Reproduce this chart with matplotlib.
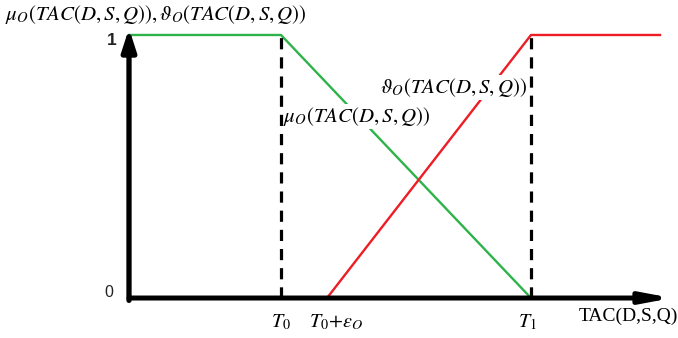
import matplotlib
matplotlib.use("Agg")
import matplotlib.pyplot as plt

plt.rcParams['mathtext.fontset'] = 'stix'

# Data (x in arbitrary TAC units, y in membership degree)
mu_x = [0.0, 3.04, 8.04]
mu_y = [1.0, 1.0, 0.0]
nu_x = [3.96, 8.04, 10.62]
nu_y = [0.0, 1.0, 1.0]
tick_pos = [3.04, 3.96, 8.04]
tick_labels = [r'$T_0$', r'$T_0\!+\!\epsilon_O$', r'$T_1$']
ytick_pos = [0.0, 1.0]
ytick_labels = ['0', '1']

fig = plt.figure(figsize=(6.78, 3.38), dpi=100)
ax = fig.add_axes([0, 0, 1, 1])
ax.set_xlim(-2.58, 10.98)
ax.set_ylim(-0.152, 1.133)
ax.axis('off')

green = '#2db34a'
red = '#ee1c25'

# dashed verticals
for xp in [tick_pos[0], tick_pos[2]]:
    ax.plot([xp, xp], [0, 1], color='black', lw=2.3, ls=(0, (3.5, 2.5)), zorder=4.5)

ax.plot(mu_x, mu_y, color=green, lw=1.7, zorder=3)
ax.plot(nu_x, nu_y, color=red, lw=1.7, zorder=3)

# axes arrows
ax.annotate('', xy=(10.86, 0), xytext=(0, 0),
            arrowprops=dict(arrowstyle='-|>,head_length=1.7,head_width=0.32',
                            color='black', lw=3.6, shrinkA=0, shrinkB=0), zorder=5)
ax.annotate('', xy=(0, 1.025), xytext=(0, -0.009),
            arrowprops=dict(arrowstyle='-|>,head_length=1.3,head_width=0.42',
                            color='black', lw=3.8, shrinkA=0, shrinkB=0), zorder=5)

# y tick labels
ax.text(-0.24, ytick_pos[1] - 0.022, ytick_labels[1], fontsize=12.5, family='Liberation Sans',
        weight='bold', ha='right', va='center', color='#222222')
ax.text(-0.32, ytick_pos[0] + 0.02, ytick_labels[0], fontsize=11.5, family='Liberation Sans',
        ha='right', va='center', color='#222222')

# x tick labels
offsets = [0.0, 0.18, -0.08]
for xp, lab, off in zip(tick_pos, tick_labels, offsets):
    ax.text(xp + off, -0.09, lab, fontsize=14.5, ha='center', va='center')

ax.text(10.98, -0.068, 'TAC(D,S,Q)', fontsize=14, family='Liberation Serif',
        ha='right', va='center')

# top label
ax.text(-2.48, 1.078, r'$\mu_O(TAC(D,S,Q)),\vartheta_O(TAC(D,S,Q))$', fontsize=15,
        ha='left', va='center')

# inline labels
ax.text(3.08, 0.69, r'$\mu_O(TAC(D,S,Q))$', fontsize=15, ha='left', va='center',
        bbox=dict(facecolor='white', edgecolor='none', pad=0.5), zorder=4)
ax.text(7.96, 0.80, r'$\vartheta_O(TAC(D,S,Q))$', fontsize=15, ha='right', va='center',
        bbox=dict(facecolor='white', edgecolor='none', pad=0.5), zorder=4)

fig.savefig('out.png', dpi=100)
